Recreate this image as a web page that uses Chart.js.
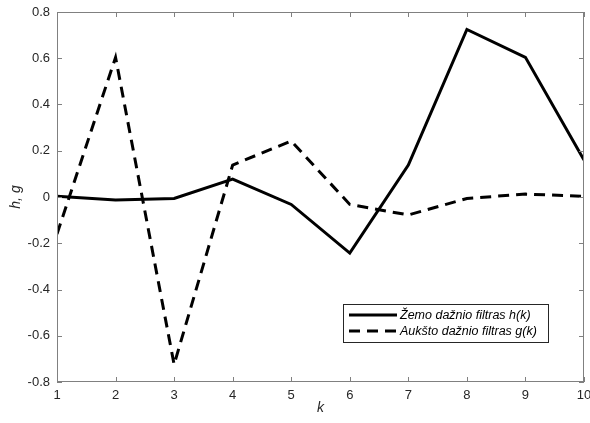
<!DOCTYPE html>
<html>
<head>
<meta charset="utf-8">
<script src="https://cdn.jsdelivr.net/npm/chart.js@4.4.1/dist/chart.umd.min.js"></script>
<style>
  html, body { margin: 0; padding: 0; background: #fff; }
  #wrap { width: 590px; height: 423px; }
</style>
</head>
<body>
<div id="wrap"><canvas id="grafico" width="590" height="423"></canvas></div>
<script>
// Filtrų koeficientai
const k = [1, 2, 3, 4, 5, 6, 7, 8, 9, 10];
const h = [0.0033, -0.0126, -0.0062, 0.0776, -0.0322, -0.2423, 0.1384, 0.7243, 0.6038, 0.1601];
const g = [-0.1601, 0.6038, -0.7243, 0.1384, 0.2423, -0.0322, -0.0776, -0.0062, 0.0126, 0.0033];
const yTicks = [-0.8, -0.6, -0.4, -0.2, 0, 0.2, 0.4, 0.6, 0.8];
const legendLabels = ['Žemo dažnio filtras h(k)', 'Aukšto dažnio filtras g(k)'];

const axisColor = '#262626';
const frameColor = '#808080';
const fontFamily = "'Liberation Sans', Arial, sans-serif";

// rėmelis ir įvidinės padalos kaip MATLAB
const rėmelis = {
  id: 'remelis',
  afterDraw(chart) {
    const { ctx, chartArea: a, scales } = chart;
    ctx.save();
    ctx.strokeStyle = frameColor;
    ctx.lineWidth = 1;
    ctx.strokeRect(a.left + 0.5, a.top + 0.5, a.right - a.left - 1, a.bottom - a.top - 1);
    ctx.beginPath();
    const tl = 5;
    scales.x.ticks.forEach(t => {
      const x = Math.round(scales.x.getPixelForValue(t.value)) + 0.5;
      ctx.moveTo(x, a.bottom); ctx.lineTo(x, a.bottom - tl);
      ctx.moveTo(x, a.top); ctx.lineTo(x, a.top + tl);
    });
    scales.y.ticks.forEach(t => {
      const y = Math.round(scales.y.getPixelForValue(t.value)) + 0.5;
      ctx.moveTo(a.left, y); ctx.lineTo(a.left + tl, y);
      ctx.moveTo(a.right, y); ctx.lineTo(a.right - tl, y);
    });
    ctx.stroke();

    // legenda apačioje dešinėje
    const bx = a.left + 286, by = a.top + 292, bw = 205, bh = 38;
    ctx.fillStyle = '#fff';
    ctx.fillRect(bx, by, bw, bh);
    ctx.strokeStyle = axisColor;
    ctx.strokeRect(bx + 0.5, by + 0.5, bw, bh);
    chart.data.datasets.forEach((ds, i) => {
      const y = by + 11 + i * 16;
      ctx.beginPath();
      ctx.strokeStyle = ds.borderColor;
      ctx.lineWidth = ds.borderWidth;
      ctx.setLineDash(ds.borderDash || []);
      ctx.moveTo(bx + 6, y);
      ctx.lineTo(bx + 54, y);
      ctx.stroke();
      ctx.setLineDash([]);
      ctx.fillStyle = '#000';
      ctx.font = 'italic 12.5px ' + fontFamily;
      ctx.textBaseline = 'middle';
      ctx.textAlign = 'left';
      ctx.fillText(ds.label, bx + 57, y + 1);
    });
    ctx.restore();
  }
};

const ctx = document.getElementById('grafico').getContext('2d');
new Chart(ctx, {
  type: 'line',
  data: {
    datasets: [
      {
        label: legendLabels[0],
        data: k.map((v, i) => ({ x: v, y: h[i] })),
        borderColor: '#000',
        borderWidth: 3,
        pointRadius: 0,
        tension: 0
      },
      {
        label: legendLabels[1],
        data: k.map((v, i) => ({ x: v, y: g[i] })),
        borderColor: '#000',
        borderWidth: 3,
        borderDash: [11, 7],
        pointRadius: 0,
        tension: 0
      }
    ]
  },
  plugins: [rėmelis],
  options: {
    responsive: false,
    animation: false,
    layout: { padding: { top: 12, right: 6, left: 0, bottom: 0 } },
    plugins: {
      legend: { display: false },
      tooltip: { enabled: false }
    },
    scales: {
      x: {
        type: 'linear',
        min: 1,
        max: 10,
        grid: { display: false, drawTicks: false },
        border: { display: false },
        ticks: {
          stepSize: 1,
          padding: 6,
          maxRotation: 0,
          color: axisColor,
          font: { family: fontFamily, size: 13 }
        },
        title: {
          display: true,
          text: 'k',
          color: axisColor,
          padding: { top: 0, bottom: 6 },
          font: { family: fontFamily, size: 14, style: 'italic' }
        },
        afterFit(scale) {
          scale.height = 41;
          scale.paddingLeft = 0;
          scale.paddingRight = 0;
        }
      },
      y: {
        min: -0.8,
        max: 0.8,
        grid: { display: false, drawTicks: false },
        border: { display: false },
        afterBuildTicks(scale) {
          scale.ticks = yTicks.map(v => ({ value: v }));
        },
        ticks: {
          padding: 7,
          color: axisColor,
          font: { family: fontFamily, size: 13 },
          callback: v => (Math.abs(v) < 1e-9 ? '0' : String(Math.round(v * 10) / 10))
        },
        title: {
          display: true,
          text: 'h, g',
          color: axisColor,
          padding: { top: 8, bottom: 0 },
          font: { family: fontFamily, size: 14, style: 'italic' }
        },
        afterFit(scale) {
          scale.width = 57;
          scale.paddingTop = 0;
          scale.paddingBottom = 0;
        }
      }
    }
  }
});
</script>
</body>
</html>
